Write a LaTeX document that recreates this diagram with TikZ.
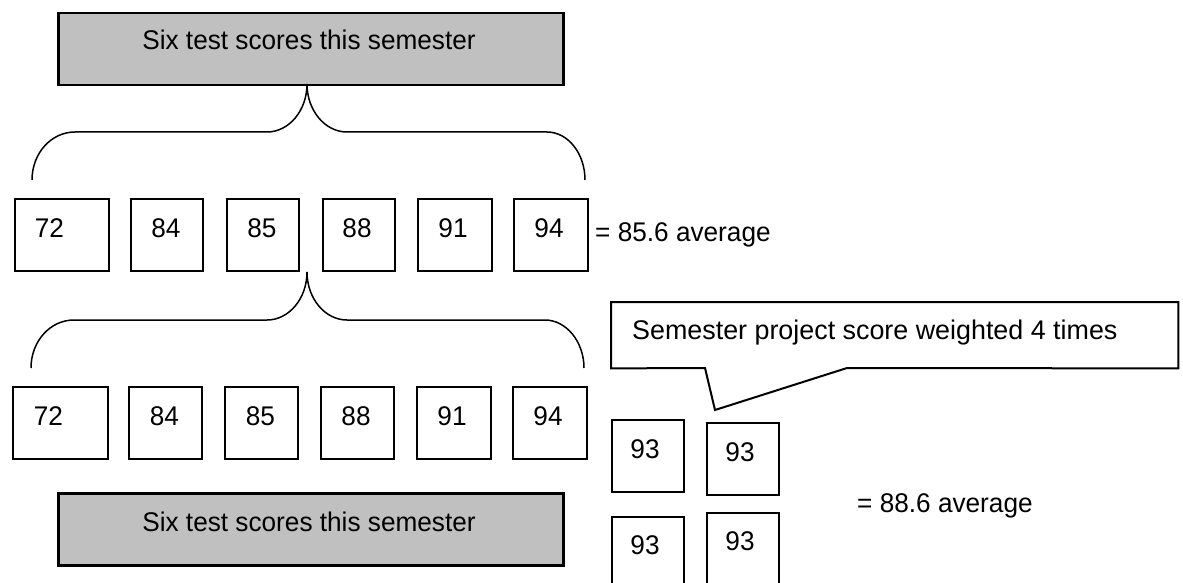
\documentclass[tikz,border=0pt]{standalone}
\usepackage{fontspec}
\setmainfont[FakeStretch=0.97]{Liberation Sans}
\newfontfamily\callfont[FakeStretch=0.995]{Liberation Sans}
\definecolor{boxgray}{HTML}{C0C0C0}
\begin{document}
\begin{tikzpicture}[x=1pt,y=-1pt,
  graybox/.style={draw, fill=boxgray, line width=2.5pt, minimum width=505pt, minimum height=72pt, inner sep=0pt, anchor=north west},
  scorebox/.style={draw, line width=1.5pt, minimum height=72pt, inner sep=0pt, anchor=north west},
  lbl/.style={font=\fontsize{27}{32}\selectfont, inner sep=0pt, anchor=base},
  lblw/.style={font=\fontsize{27}{32}\selectfont, inner sep=0pt, anchor=base west},
  brace/.style={line width=1.5pt},
  callline/.style={line width=2pt, line join=miter}]
\clip (0,0) rectangle (1183,583);

% top gray box
\node[graybox] (top) at (57,12) {};
\node[lbl] (toptxt) at (309,50) {Six test scores this semester};

% first row
\foreach \n/\x/\w/\t/\tx in {a/14/94/72/49.5, b/130/72/84/166, c/226/72/85/262, d/322/72/88/357, e/417/74/91/453, f/513/74/94/549}{
  \node[scorebox, minimum width=\w pt] (r1\n) at (\x,198) {};
  \node[lbl] (r1\n t) at (\tx,237) {\t};
}
% second row
\foreach \n/\x/\w/\t/\tx in {a/12/95/72/48.5, b/128/73/84/164.5, c/224/73/85/260.5, d/320/73/88/356, e/416/74/91/452, f/512/74/94/548}{
  \node[scorebox, minimum width=\w pt] (r2\n) at (\x,386) {};
  \node[lbl] (r2\n t) at (\tx,425) {\t};
}

% brace 1
\coordinate (b1l) at (32,180);
\coordinate (b1c) at (307,84);
\coordinate (b1r) at (585,180);
\draw[brace] (b1l) .. controls (32,153.5) and (51,132) .. (75,132) -- (267,132)
  .. controls (289,132) and (307,110.5) .. (b1c)
  .. controls (307,110.5) and (325,132) .. (347,132) -- (547,132)
  .. controls (568,132) and (585,153.5) .. (b1r);

% brace 2
\coordinate (b2l) at (31,368);
\coordinate (b2c) at (307,272);
\coordinate (b2r) at (584,368);
\draw[brace] (b2l) .. controls (31,341.5) and (50,320) .. (74,320) -- (267,320)
  .. controls (289,320) and (307,298.5) .. (b2c)
  .. controls (307,298.5) and (325,320) .. (347,320) -- (545,320)
  .. controls (566,320) and (584,341.5) .. (b2r);

\node[lblw] (avg1) at (595,241) {= 85.6 average};

% callout
\node[draw=none, minimum width=567pt, minimum height=66pt, inner sep=0pt, anchor=north west] (call) at (611,302) {};
\coordinate (tailL) at (705,368);
\coordinate (tip) at (715,410);
\coordinate (tailR) at (847,368);
\draw[callline] (call.north west) -- (call.north east) -- (call.south east) -- (tailR) -- (tip) -- (tailL) -- (call.south west) -- cycle;
\node[lblw, font=\callfont\fontsize{27}{32}\selectfont] (calltxt) at (632,339) {Semester project score weighted 4 times};

% project boxes
\node[scorebox, minimum width=72pt] (p1) at (611,419) {};
\node[lbl] (p1t) at (645,458) {93};
\node[scorebox, minimum width=72pt] (p2) at (706,422) {};
\node[lbl] (p2t) at (740,461) {93};
\node[scorebox, minimum width=72pt, minimum height=80pt] (p3) at (611,516) {};
\node[lbl] (p3t) at (645,554) {93};
\node[scorebox, minimum width=72pt, minimum height=84pt] (p4) at (706,512) {};
\node[lbl] (p4t) at (740,550) {93};

\node[lblw] (avg2) at (857,512) {= 88.6 average};

% bottom gray box
\node[graybox] (bot) at (57,492) {};
\node[lbl] (bottxt) at (309,531) {Six test scores this semester};
\end{tikzpicture}
\end{document}
